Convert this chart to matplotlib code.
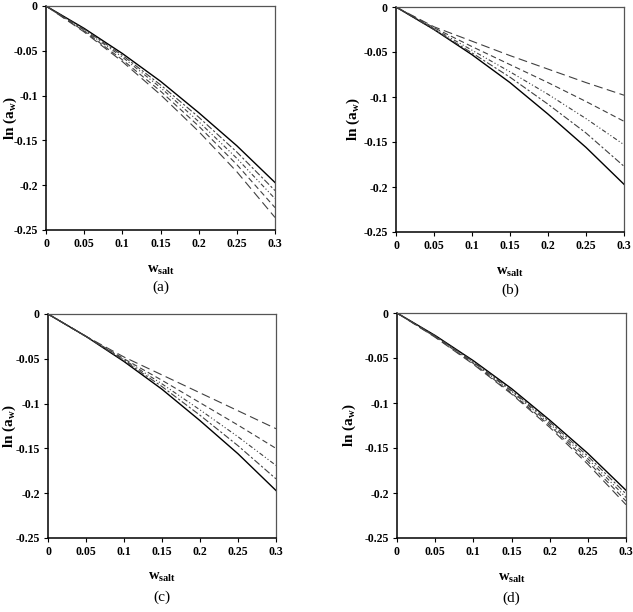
import matplotlib
matplotlib.use("Agg")
import matplotlib.pyplot as plt

plt.rcParams['font.family'] = ['Liberation Serif', 'DejaVu Serif']
plt.rcParams['mathtext.fontset'] = 'custom'
plt.rcParams['mathtext.rm'] = 'Liberation Serif:bold'
plt.rcParams['mathtext.it'] = 'Liberation Serif:bold'
plt.rcParams['mathtext.bf'] = 'Liberation Serif:bold'

# ---- data ----
w_salt = [0.0, 0.05, 0.10, 0.15, 0.20, 0.25, 0.30]

a_curves = [
    [0, -0.025, -0.053, -0.084, -0.119, -0.156, -0.197],
    [0, -0.026, -0.055, -0.088, -0.124, -0.163, -0.206],
    [0, -0.027, -0.057, -0.091, -0.129, -0.170, -0.215],
    [0, -0.028, -0.060, -0.095, -0.134, -0.177, -0.225],
    [0, -0.029, -0.062, -0.099, -0.140, -0.185, -0.236],
]
b_curves = [
    [0, -0.025, -0.053, -0.084, -0.119, -0.156, -0.197],
    [0, -0.025, -0.051, -0.078, -0.108, -0.140, -0.177],
    [0, -0.024, -0.048, -0.072, -0.097, -0.124, -0.153],
    [0, -0.023, -0.044, -0.064, -0.084, -0.105, -0.127],
    [0, -0.022, -0.038, -0.054, -0.069, -0.084, -0.098],
]
c_curves = [
    [0, -0.025, -0.053, -0.084, -0.119, -0.156, -0.197],
    [0, -0.025, -0.052, -0.081, -0.113, -0.147, -0.184],
    [0, -0.025, -0.051, -0.078, -0.107, -0.137, -0.169],
    [0, -0.025, -0.050, -0.074, -0.099, -0.124, -0.150],
    [0, -0.025, -0.048, -0.068, -0.088, -0.108, -0.128],
]
d_curves = [
    [0, -0.025, -0.053, -0.084, -0.119, -0.156, -0.197],
    [0, -0.0255, -0.054, -0.086, -0.121, -0.159, -0.201],
    [0, -0.026, -0.055, -0.087, -0.123, -0.162, -0.205],
    [0, -0.0265, -0.056, -0.089, -0.125, -0.165, -0.209],
    [0, -0.027, -0.057, -0.090, -0.127, -0.168, -0.213],
]
panel_letters = ['(a)', '(b)', '(c)', '(d)']
x_ticks = [0, 0.05, 0.1, 0.15, 0.2, 0.25, 0.3]
x_ticklabels = ['0', '0.05', '0.1', '0.15', '0.2', '0.25', '0.3']
y_ticks = [0, -0.05, -0.1, -0.15, -0.2, -0.25]
y_ticklabels = ['0', '-0.05', '-0.1', '-0.15', '-0.2', '-0.25']

styles = [
    dict(linestyle='-', color='black', lw=1.0),
    dict(linestyle=(0, (6, 2, 2, 2)), color='#404040', lw=0.8),
    dict(linestyle=(0, (4, 2, 1, 2, 1, 2)), color='#404040', lw=0.8),
    dict(linestyle=(0, (5, 3)), color='#404040', lw=0.8),
    dict(linestyle=(0, (8, 4)), color='#404040', lw=0.8),
]

W, H = 633, 612
fig = plt.figure(figsize=(W / 100, H / 100), dpi=100)

# pixel boxes: left, right, top, bottom
boxes = [(46, 275, 6, 230), (396, 624, 7, 232), (48, 276, 314, 538), (397, 626, 313, 538)]
ylab_x = [10, 353, 9, 349]
xlab_y = [270, 272, 577, 578]
letter_y = [287, 290, 597, 598]

for i, curves in enumerate([a_curves, b_curves, c_curves, d_curves]):
    l, r, t, b = boxes[i]
    ax = fig.add_axes([l / W, (H - b) / H, (r - l) / W, (b - t) / H])
    for c, st in zip(curves, styles):
        ax.plot(w_salt, c, **st)
    ax.set_xlim(0, 0.3)
    ax.set_ylim(-0.25, 0)
    ax.set_xticks(x_ticks)
    ax.set_xticklabels(x_ticklabels, fontsize=8.5, fontweight='bold')
    ax.set_yticks(y_ticks)
    ax.set_yticklabels(y_ticklabels, fontsize=8.5, fontweight='bold')
    ax.tick_params(direction='out', length=3, width=0.8, pad=3)
    for s in ['left', 'bottom']:
        ax.spines[s].set_linewidth(1.1)
        ax.spines[s].set_color('black')
    for s in ['top', 'right']:
        ax.spines[s].set_linewidth(0.9)
        ax.spines[s].set_color('#555555')
    cx = (l + r) / 2 / W
    fig.text(cx, 1 - xlab_y[i] / H, r'w$_{\mathbf{salt}}$', ha='center', va='center',
             fontsize=10.5, fontweight='bold')
    fig.text(cx, 1 - letter_y[i] / H, panel_letters[i], ha='center', va='center', fontsize=11)
    fig.text(ylab_x[i] / W, 1 - ((t + b) / 2) / H, r'ln (a$_{\mathbf{w}}$)', rotation=90,
             ha='center', va='center', fontsize=11, fontweight='bold')

fig.savefig('out.png', dpi=100)
